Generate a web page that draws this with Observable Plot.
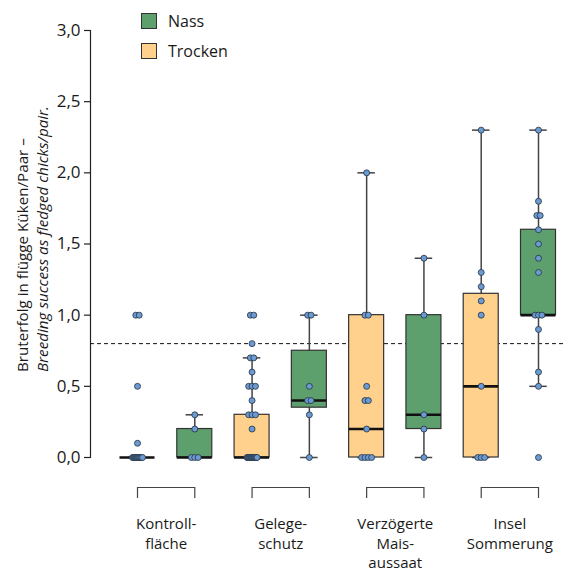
<!DOCTYPE html>
<html><head><meta charset="utf-8">
<script src="https://cdn.jsdelivr.net/npm/d3@7"></script>
<script src="https://cdn.jsdelivr.net/npm/@observablehq/plot@0.6"></script>
<style>
body{margin:0;background:#fff;font-family:"Open Sans",sans-serif;}
#wrap{position:relative;width:566px;height:572px;}
.legend{position:absolute;left:141px;top:13px;font-size:16px;color:#1a1a1a;}
.item{display:flex;align-items:center;height:16px;margin-bottom:13.7px;}
.sw{width:14px;height:14px;border:1px solid #333;margin-right:11px;}
</style></head><body><div id="wrap"></div>
<script>
// ---- data ----
const groupLabels = ["Kontroll-\nfläche", "Gelege-\nschutz", "Verzögerte\nMais-\naussaat", "Insel\nSommerung"];
const conditions = ["Trocken", "Nass"];
const legendOrder = ["Nass", "Trocken"];
const yTicks = [0, 0.5, 1, 1.5, 2, 2.5, 3];
const threshold = [0.8];
const yLabel1 = "Bruterfolg in flügge Küken/Paar –";
const yLabel2 = "Breeding success as fledged chicks/pair.";
// box summaries, order: Kontroll T, Kontroll N, Gelege T, Gelege N, Verz T, Verz N, Insel T, Insel N
const boxQ1 = [0, 0, 0, 0.35, 0, 0.2, 0, 1.0];
const boxMedian = [0, 0, 0, 0.4, 0.2, 0.3, 0.5, 1.0];
const boxQ3 = [0, 0.2, 0.3, 0.75, 1.0, 1.0, 1.15, 1.6];
const whiskerLow = [0, 0, 0, 0, 0, 0, 0, 0.5];
const whiskerHigh = [0, 0.3, 0.7, 1.0, 2.0, 1.4, 2.3, 2.3];
// individual values per box
const ptsKontrollTrocken = [1, 1, 0.5, 0.1, 0, 0, 0, 0, 0, 0, 0, 0, 0, 0, 0, 0];
const ptsKontrollNass = [0.3, 0.2, 0, 0, 0];
const ptsGelegeTrocken = [1, 1, 0.8, 0.7, 0.7, 0.6, 0.5, 0.5, 0.5, 0.4, 0.3, 0.3, 0.3, 0.2, 0, 0, 0, 0, 0, 0, 0, 0, 0, 0, 0, 0, 0, 0, 0];
const ptsGelegeNass = [1, 1, 0.5, 0.4, 0.4, 0.3, 0];
const ptsVerzTrocken = [2.0, 1, 1, 0.5, 0.4, 0.4, 0.2, 0, 0, 0, 0];
const ptsVerzNass = [1.4, 1.0, 0.3, 0.2, 0];
const ptsInselTrocken = [2.3, 1.3, 1.2, 1.1, 1.0, 0.5, 0, 0, 0];
const ptsInselNass = [2.3, 1.8, 1.7, 1.7, 1.6, 1.5, 1.4, 1.3, 1.0, 1.0, 1.0, 0.9, 0.6, 0.5, 0];
const pointSets = [ptsKontrollTrocken, ptsKontrollNass, ptsGelegeTrocken, ptsGelegeNass, ptsVerzTrocken, ptsVerzNass, ptsInselTrocken, ptsInselNass];

// ---- layout / style ----
const colTrocken = "#ffd18c", colNass = "#5e9f6e";
const firstCenter = 137, lastCenter = 538;
const step = (lastCenter - firstCenter) / 7;
const hw = 17.5 / step; // box half width in x units

const boxes = boxQ1.map((q1, i) => ({
  pos: i, g: Math.floor(i / 2), cond: conditions[i % 2],
  q1, med: boxMedian[i], q3: boxQ3[i], lo: whiskerLow[i], hi: whiskerHigh[i]
}));
const groupsData = groupLabels.map((label, g) => ({g, label}));

// spread duplicate values slightly so overlapping points remain visible
const points = [];
pointSets.forEach((vals, i) => {
  const byVal = d3.group(vals, v => v);
  for (const [v, arr] of byVal) {
    const k = arr.length;
    const s = k > 1 ? Math.min(3.4, 10 / (k - 1)) : 0;
    arr.forEach((_, j) => points.push({pos: i, value: v, off: (j - (k - 1) / 2) * s / step}));
  }
});

const fmt = d => d.toFixed(1).replace(".", ",");

const chart = Plot.plot({
  width: 566, height: 572,
  marginLeft: 90, marginRight: 0, marginTop: 30, marginBottom: 115,
  style: {fontFamily: "'Open Sans', sans-serif", fontSize: "16px", color: "#1a1a1a", background: "transparent"},
  x: {domain: [0, 7], range: [firstCenter, lastCenter], axis: null},
  y: {domain: [0, 3], axis: null},
  color: {domain: conditions, range: [colTrocken, colNass]},
  marks: [
    Plot.frame({anchor: "left", stroke: "#222", strokeWidth: 1.2}),
    Plot.axisY({ticks: yTicks, tickFormat: fmt, tickSize: 6, tickPadding: 4, fontSize: 17, label: null, stroke: "#222", strokeWidth: 1.2}),
    Plot.ruleY(threshold, {stroke: "#111", strokeWidth: 1, strokeDasharray: "4,3"}),
    Plot.ruleX(boxes, {x: "pos", y1: "lo", y2: "hi", stroke: "#444", strokeWidth: 1.5}),
    Plot.ruleY(boxes, {x1: d => d.pos - hw / 2, x2: d => d.pos + hw / 2, y: "hi", stroke: "#444", strokeWidth: 1.5}),
    Plot.ruleY(boxes, {x1: d => d.pos - hw / 2, x2: d => d.pos + hw / 2, y: "lo", stroke: "#444", strokeWidth: 1.5}),
    Plot.rectY(boxes, {x1: d => d.pos - hw, x2: d => d.pos + hw, y1: "q1", y2: "q3", fill: "cond", stroke: "#333", strokeWidth: 1.2}),
    Plot.ruleY(boxes, {x1: d => d.pos - hw, x2: d => d.pos + hw, y: "med", stroke: "#111", strokeWidth: 2.6}),
    Plot.dot(points, {x: d => d.pos + d.off, y: "value", r: 3, fill: "#6b9bd2", stroke: "#24313f", strokeWidth: 0.8}),
    Plot.link(groupsData, {x1: d => d.g * 2, x2: d => d.g * 2 + 1, y1: 0, y2: 0, dy: 30, stroke: "#444", strokeWidth: 1.2}),
    Plot.ruleX(boxes, {x: "pos", y1: 0, y2: 0, insetTop: 30, insetBottom: -41, stroke: "#444", strokeWidth: 1.2}),
    Plot.text(groupsData, {x: d => d.g * 2 + 0.5, y: 0, dy: 58, text: "label", lineAnchor: "top", lineHeight: 1.3, fontSize: 15, fill: "#1a1a1a"})
  ]
});

const svg = d3.select(chart);
svg.append("text").attr("transform", "translate(28,372) rotate(-90)")
  .attr("text-anchor", "start").attr("font-size", 15.2).attr("fill", "#1a1a1a").text(yLabel1);
svg.append("text").attr("transform", "translate(48,372) rotate(-90)")
  .attr("text-anchor", "start").attr("font-size", 15.2).attr("font-style", "italic").attr("fill", "#1a1a1a").text(yLabel2);

const wrap = document.getElementById("wrap");
wrap.appendChild(chart);
const legend = document.createElement("div");
legend.className = "legend";
const legendColor = {Trocken: colTrocken, Nass: colNass};
legend.innerHTML = legendOrder.map(c => `<div class="item"><div class="sw" style="background:${legendColor[c]}"></div>${c}</div>`).join("");
wrap.appendChild(legend);
</script></body></html>
